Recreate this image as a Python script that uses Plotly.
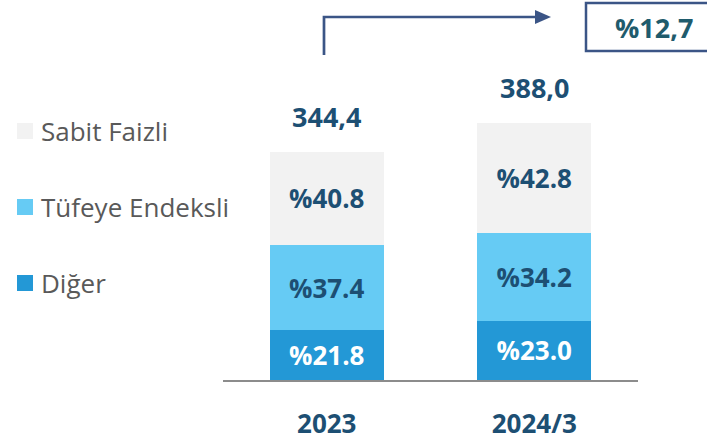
import plotly.graph_objects as go

categories = ["2023", "2024/3"]
totals = [344.4, 388.0]
series_names = ["Diğer", "Tüfeye Endeksli", "Sabit Faizli"]
pct_diger = [21.8, 23.0]
pct_tufe = [37.4, 34.2]
pct_sabit = [40.8, 42.8]
growth_label = "%12,7"

colors = {"Diğer": "#2398D6", "Tüfeye Endeksli": "#66CBF4", "Sabit Faizli": "#F2F2F2"}
text_colors = {"Diğer": "#FFFFFF", "Tüfeye Endeksli": "#1D4F73", "Sabit Faizli": "#1D4F73"}
DARK = "#1D4F73"
FONT = "Open Sans"

# body margin is removed by post_script, so figure fills the window
OFF = 0
W, H = 707 - OFF, 442 - OFF
L = 223 - OFF
R = W - (638 - OFF)
B = H - (380 - OFF)
T = 0
PW, PH = W - L - R, H - T - B
YMAX = PH / 0.663


def px(x):
    return (x - OFF - L) / PW


def py(y):
    return (H - B - (y - OFF)) / PH


fig = go.Figure()
pcts = {"Diğer": pct_diger, "Tüfeye Endeksli": pct_tufe, "Sabit Faizli": pct_sabit}
for name in series_names:
    p = pcts[name]
    vals = [t * v / 100 for t, v in zip(totals, p)]
    fig.add_trace(go.Bar(
        x=categories, y=vals, name=name,
        marker=dict(color=colors[name], line=dict(width=0)),
        text=["%" + f"{v:.1f}" for v in p],
        textposition="inside", insidetextanchor="middle", textangle=0,
        textfont=dict(family=FONT, size=26, color=text_colors[name], weight="bold"),
        width=0.55, showlegend=False, hoverinfo="skip",
    ))

# totals above bars (category index positions)
for i, t in enumerate(totals):
    fig.add_annotation(x=i, y=t, text=f"{t:.1f}".replace(".", ","), showarrow=False,
                       yanchor="middle", yshift=35,
                       font=dict(family=FONT, size=27, color=DARK, weight="bold"))

# manual legend
leg_y = {"Sabit Faizli": 131, "Tüfeye Endeksli": 207, "Diğer": 283}
for name in ["Sabit Faizli", "Tüfeye Endeksli", "Diğer"]:
    yc = leg_y[name]
    fig.add_shape(type="rect", xref="paper", yref="paper",
                  x0=px(17), x1=px(33), y0=py(yc + 8), y1=py(yc - 8),
                  fillcolor=colors[name], line=dict(width=0))
    fig.add_annotation(xref="paper", yref="paper", x=px(39), y=py(yc), text=name,
                       showarrow=False, xanchor="left", yanchor="middle",
                       font=dict(family=FONT, size=26, color="#595959"))

# growth arrow
AC = "#3B5586"
fig.add_shape(type="path", xref="paper", yref="paper",
              path=f"M {px(324)},{py(55)} L {px(324)},{py(17)} L {px(537)},{py(17)}",
              line=dict(color=AC, width=2.7))
fig.add_shape(type="path", xref="paper", yref="paper",
              path=f"M {px(535)},{py(10)} L {px(551)},{py(17)} L {px(535)},{py(24)} Z",
              fillcolor=AC, line=dict(color=AC, width=0))
fig.add_shape(type="rect", xref="paper", yref="paper",
              x0=px(586), x1=px(712), y0=py(51), y1=py(3),
              fillcolor="rgba(0,0,0,0)", line=dict(color=AC, width=2.5))
fig.add_annotation(xref="paper", yref="paper", x=px(654), y=py(27), text=growth_label,
                   showarrow=False, xanchor="center", yanchor="middle",
                   font=dict(family=FONT, size=27, color="#1F5B6C", weight="bold"))

fig.update_layout(
    width=W, height=H, barmode="stack",
    margin=dict(l=L, r=R, t=T, b=B),
    plot_bgcolor="white", paper_bgcolor="white",
    uniformtext=dict(minsize=10, mode="show"),
    xaxis=dict(type="category", range=[-0.5, 1.5], showline=True, linecolor="#8C8C8C",
               linewidth=2, ticks="",
               tickfont=dict(family=FONT, size=26, color=DARK, weight="bold"),
               ticklabelstandoff=20, showgrid=False, zeroline=False, fixedrange=True),
    yaxis=dict(range=[0, YMAX], visible=False, showgrid=False, zeroline=False),
    showlegend=False,
)

fig.write_html("out.html",
               config={"displayModeBar": False},
               post_script="document.body.style.margin='0';document.body.style.overflow='hidden';")
